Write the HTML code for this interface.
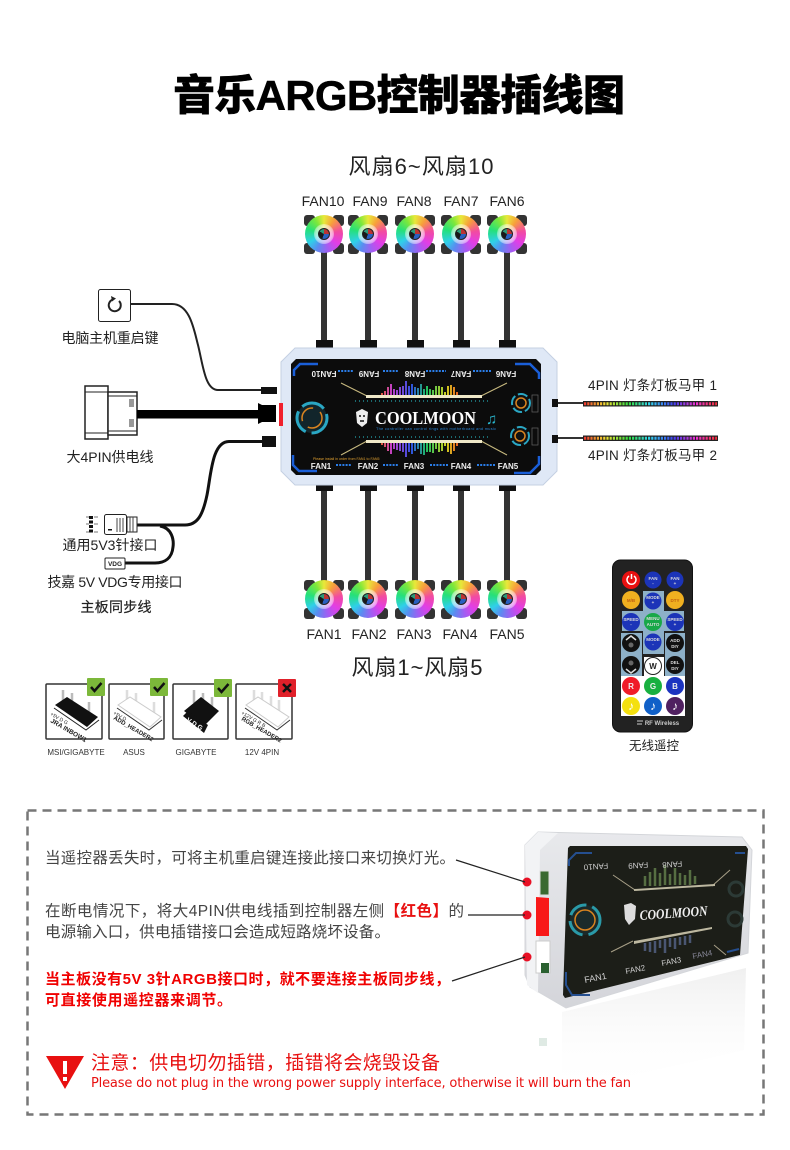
<!DOCTYPE html>
<html lang="zh"><head><meta charset="utf-8"><title>音乐ARGB控制器插线图</title>
<style>
html,body{margin:0;padding:0;background:#fff}
#p{position:relative;width:790px;height:1150px;overflow:hidden;background:#fff;font-family:"Liberation Sans","Noto Sans CJK SC",sans-serif}
svg{position:absolute;left:0;top:0}
text{font-family:"Liberation Sans","Noto Sans CJK SC",sans-serif}
.f{position:absolute;width:38px;height:38px;border-radius:50%;background:conic-gradient(#e8e83a 0deg,#f7a13a 35deg,#f24ba0 80deg,#e23ee6 125deg,#a45cf2 165deg,#5a8cf0 205deg,#2fd0e8 240deg,#25e07a 285deg,#7fe83a 330deg,#e8e83a 360deg)}
.f:before{content:"";position:absolute;left:9px;top:9px;width:20px;height:20px;border-radius:50%;background:radial-gradient(circle,rgba(255,255,255,.6) 55%,rgba(255,255,255,0) 100%)}
.f:after{content:"";position:absolute;left:13px;top:13px;width:12px;height:12px;border-radius:50%;box-sizing:border-box;border:1px solid #222;background:conic-gradient(#b33 0 90deg,#2a5fc0 90deg 200deg,#181818 200deg 300deg,#2a9a7a 300deg)}
.c{position:absolute;width:11px;height:11px;border-radius:3px;background:#333}
</style></head><body><div id="p">
<svg width="790" height="1150" viewBox="0 0 790 1150">
<defs>
<linearGradient id="rb" gradientUnits="userSpaceOnUse" x1="380" y1="0" x2="458" y2="0"><stop offset="0" stop-color="#e8602a"/><stop offset=".15" stop-color="#c040c8"/><stop offset=".4" stop-color="#3050e0"/><stop offset=".6" stop-color="#20c060"/><stop offset=".85" stop-color="#d0d020"/><stop offset="1" stop-color="#e86020"/></linearGradient>
<linearGradient id="led" gradientUnits="userSpaceOnUse" x1="583" y1="0" x2="718" y2="0"><stop offset="0" stop-color="#f03030"/><stop offset=".17" stop-color="#f0e030"/><stop offset=".34" stop-color="#30e040"/><stop offset=".5" stop-color="#30d0f0"/><stop offset=".67" stop-color="#4040f0"/><stop offset=".84" stop-color="#f030d0"/><stop offset="1" stop-color="#f03030"/></linearGradient>
<linearGradient id="ref" x1="0" y1="0" x2="0" y2="1"><stop offset="0" stop-color="#aaa" stop-opacity=".18"/><stop offset="1" stop-color="#fff" stop-opacity="0"/></linearGradient>
<linearGradient id="bd" x1="0" y1="0" x2="0" y2="1"><stop offset="0" stop-color="#e8e9ec"/><stop offset="1" stop-color="#d4d5da"/></linearGradient>
</defs>

<text x="399" y="110" text-anchor="middle" font-size="42" font-weight="900" textLength="452" stroke="#000" stroke-width=".5" fill="#000">音乐ARGB控制器插线图</text>
<text x="421" y="174" text-anchor="middle" font-size="22" fill="#222" textLength="145">风扇6~风扇10</text>
<text x="417" y="675" text-anchor="middle" font-size="22" fill="#222" textLength="131">风扇1~风扇5</text>

<g font-size="14" fill="#222" text-anchor="middle">
<text x="323" y="206">FAN10</text><text x="370" y="206">FAN9</text><text x="414" y="206">FAN8</text><text x="461" y="206">FAN7</text><text x="507" y="206">FAN6</text>
<text x="324" y="639">FAN1</text><text x="369" y="639">FAN2</text><text x="414" y="639">FAN3</text><text x="460" y="639">FAN4</text><text x="507" y="639">FAN5</text>
</g>

<!-- fan cables -->
<g fill="#333">
<rect x="321" y="250" width="6" height="90"/><rect x="365" y="250" width="6" height="90"/><rect x="412" y="250" width="6" height="90"/><rect x="458" y="250" width="6" height="90"/><rect x="504" y="250" width="6" height="90"/>
<rect x="321" y="488" width="6" height="96"/><rect x="365" y="488" width="6" height="96"/><rect x="412" y="488" width="6" height="96"/><rect x="458" y="488" width="6" height="96"/><rect x="504" y="488" width="6" height="96"/>
</g>
<g fill="#111">
<rect x="316" y="340" width="17" height="8"/><rect x="360" y="340" width="17" height="8"/><rect x="407" y="340" width="17" height="8"/><rect x="453" y="340" width="17" height="8"/><rect x="499" y="340" width="17" height="8"/>
<rect x="316" y="484" width="17" height="7"/><rect x="360" y="484" width="17" height="7"/><rect x="407" y="484" width="17" height="7"/><rect x="453" y="484" width="17" height="7"/><rect x="499" y="484" width="17" height="7"/>
</g>

<!-- controller -->
<polygon points="295,348 543,348 557,362 557,471 543,485 295,485 281,471 281,362" fill="#dfe8f6" stroke="#c4d0e2" stroke-width="1"/>
<polygon points="296,359 536,359 541,364 541,470 536,475 296,475 291,470 291,364" fill="#0c0c0c"/>
<g fill="none" stroke="#1a5fd8" stroke-width="2.500">
<path d="M294,376V370L300,364H318"/><path d="M515,364H530L539,373V379"/><path d="M293,455V465L299,471H317"/><path d="M514,473H530L539,464V456"/>
</g>
<g font-size="8" font-weight="bold" fill="#eee">
<text transform="rotate(180 324 371)" x="324" y="371" text-anchor="middle">FAN10</text>
<text transform="rotate(180 369 371)" x="369" y="371" text-anchor="middle">FAN9</text>
<text transform="rotate(180 415 371)" x="415" y="371" text-anchor="middle">FAN8</text>
<text transform="rotate(180 461 371)" x="461" y="371" text-anchor="middle">FAN7</text>
<text transform="rotate(180 506 371)" x="506" y="371" text-anchor="middle">FAN6</text>
<text x="321" y="469" text-anchor="middle">FAN1</text><text x="368" y="469" text-anchor="middle">FAN2</text><text x="414" y="469" text-anchor="middle">FAN3</text><text x="461" y="469" text-anchor="middle">FAN4</text><text x="508" y="469" text-anchor="middle">FAN5</text>
</g>
<g stroke="#2a7de8" stroke-width="2" stroke-dasharray="2 1.2" fill="none">
<path d="M338,371H354M383,371H399M426,371H446M473,371H491"/>
<path d="M336,465H352M383,465H399M430,465H448M477,465H495"/>
</g>
<text x="313" y="460" font-size="3.6" fill="#e0a030">Please install in order from FAN1 to FAN5</text>
<!-- gold wings -->
<g stroke="#c9bb80" fill="none" stroke-width="1">
<path d="M341,383L367,396"/><path d="M481,396L507,383"/><path d="M341,455L367,441"/><path d="M481,441L507,455"/>
</g>
<rect x="366" y="395" width="116" height="3" fill="#efe8c8"/><rect x="366" y="440" width="116" height="3" fill="#efe8c8"/>
<g fill="none" stroke="#1a6a70" stroke-width="2" stroke-dasharray="1 3">
<path d="M355,401H491"/><path d="M355,437H491"/>
</g>
<path d="M382 395v-2M385 395v-4M388 395v-8M391 395v-11M394 395v-6M397 395v-5M400 395v-8M403 395v-9M406 395v-14M409 395v-9M412 395v-11M415 395v-8M418 395v-7M421 395v-11M424 395v-6M427 395v-9M430 395v-6M433 395v-5M436 395v-9M439 395v-9M442 395v-8M445 395v-3M448 395v-9M451 395v-10M454 395v-8M457 395v-3" stroke="url(#rb)" stroke-width="2" fill="none"/>
<path d="M382 443v2M385 443v4M388 443v8M391 443v11M394 443v6M397 443v7M400 443v8M403 443v9M406 443v14M409 443v9M412 443v11M415 443v8M418 443v6M421 443v11M424 443v12M427 443v9M430 443v9M433 443v10M436 443v6M439 443v9M442 443v8M445 443v3M448 443v9M451 443v11M454 443v8M457 443v3" stroke="url(#rb)" stroke-width="2" fill="none"/>
<path d="M356,412L362,409L368,412L367,423L362,427L357,423Z" fill="#eee"/><path d="M359,416h2M363,416h2M360,421h4" stroke="#111" stroke-width="1.400"/>
<text x="375" y="424" font-size="17.500" font-weight="bold" fill="#fff" textLength="101" lengthAdjust="spacingAndGlyphs" style="font-family:'Liberation Serif',serif">COOLMOON</text>
<text x="376" y="430" font-size="3.800" fill="#2a86d8" textLength="120">The controller can control rings with motherboard and music</text>
<text x="486" y="424" font-size="15" fill="#2ab8d0">♫</text>
<circle cx="312" cy="418" r="15" fill="#12252b" stroke="#2aa7c4" stroke-width="3" stroke-dasharray="24 6"/><circle cx="312" cy="418" r="10" fill="none" stroke="#d98420" stroke-width="1.500" stroke-dasharray="20 8"/>
<circle cx="521" cy="403" r="9" fill="#111" stroke="#2aa7c4" stroke-width="2" stroke-dasharray="10 3"/><circle cx="521" cy="403" r="5" fill="none" stroke="#d98420" stroke-width="1.500"/>
<circle cx="520" cy="436" r="9" fill="#111" stroke="#2aa7c4" stroke-width="2" stroke-dasharray="10 3"/><circle cx="520" cy="436" r="5" fill="none" stroke="#d98420" stroke-width="1.500"/>
<rect x="532" y="395" width="6" height="17" fill="none" stroke="#666" stroke-width=".7"/><rect x="532" y="428" width="6" height="17" fill="none" stroke="#666" stroke-width=".7"/>
<rect x="279" y="403" width="4" height="23" fill="#f0202c"/>

<!-- right strips -->
<rect x="552" y="399" width="6" height="8" fill="#111"/><rect x="552" y="435" width="6" height="8" fill="#111"/>
<path d="M558,403H584M558,438H584" stroke="#333" stroke-width="2"/>
<rect x="583" y="401" width="135" height="5.500" fill="#222"/><rect x="583" y="435.500" width="135" height="5.500" fill="#222"/>
<path d="M584,403.700H717M584,438.200H717" stroke="url(#led)" stroke-width="3" stroke-dasharray="2.200 1"/>
<text x="588" y="390" font-size="13.500" fill="#222" textLength="129">4PIN 灯条灯板马甲 1</text>
<text x="588" y="460" font-size="13.500" fill="#222" textLength="129">4PIN 灯条灯板马甲 2</text>

<!-- left cables -->
<rect x="98.500" y="289.500" width="32" height="32" rx="2" fill="#fff" stroke="#222"/>
<path d="M119,301a6,6 0 1 1 -6,-1.500" fill="none" stroke="#222" stroke-width="2"/><path d="M111,296l5,2.500l-4,3z" fill="#222"/>
<path d="M131,304H172C190,304 194,330 198,345C203,365 205,390 218,390H262" fill="none" stroke="#222" stroke-width="2"/>
<rect x="261" y="387" width="16" height="7" fill="#111"/>
<text x="110" y="343" text-anchor="middle" font-size="14" fill="#222" textLength="97">电脑主机重启键</text>

<rect x="85" y="386" width="23" height="53" fill="#fff" stroke="#222" stroke-width="1.500"/><path d="M85,392H108M85,433H108" stroke="#222"/>
<rect x="108" y="392" width="29" height="43" fill="#fff" stroke="#222" stroke-width="1.500"/><path d="M108,396H137M108,431H137" stroke="#222"/>
<rect x="129" y="399" width="5" height="8" fill="#999"/><rect x="129" y="419" width="5" height="8" fill="#999"/>
<rect x="137" y="410" width="122" height="8.500" fill="#000"/>
<path d="M258,403L262,405H276V422H262L258,424Z" fill="#000"/>
<text x="110" y="462" text-anchor="middle" font-size="14" fill="#222" textLength="87">大4PIN供电线</text>

<rect x="262" y="436" width="14" height="11" fill="#111"/>
<path d="M263,441.500H229C212,441.500 211,475 207,495C203,514 198,525 185,525H136" fill="none" stroke="#111" stroke-width="3"/>
<path d="M160,526C172,528 174,540 173,547C172,558 165,563 155,563H125" fill="none" stroke="#111" stroke-width="3"/>
<rect x="104.500" y="514.500" width="22" height="20" rx="2" fill="#fff" stroke="#222"/>
<rect x="127" y="517" width="10" height="15" fill="#fff" stroke="#222"/><path d="M117,518v14M120,518v14M123,518v14M130,517v15M133,517v15" stroke="#444"/>
<rect x="108" y="529" width="4" height="1.500" fill="#111"/>
<path d="M91,516v18" stroke="#111" stroke-width="4" stroke-dasharray="3 1.500"/><path d="M86,517h3M86,524h3M86,532h3M94,517h4M94,524h4M94,532h4" stroke="#777"/>
<rect x="105" y="558" width="20" height="11" rx="1" fill="#fff" stroke="#222"/><text x="115" y="566" text-anchor="middle" font-size="6.500" font-weight="bold" fill="#222">VDG</text>
<text x="110" y="550" text-anchor="middle" font-size="14" fill="#222" textLength="95">通用5V3针接口</text>
<text x="115" y="587" text-anchor="middle" font-size="14" fill="#222" textLength="135">技嘉 5V VDG专用接口</text>
<text x="116" y="612" text-anchor="middle" font-size="14" fill="#222" stroke="#222" stroke-width=".2" textLength="71">主板同步线</text>

<!-- header cards -->
<g fill="#fff" stroke="#333" stroke-width="1.500">
<rect x="46" y="684" width="56" height="55" rx="1"/><rect x="109" y="684" width="55" height="55" rx="1"/><rect x="173" y="684" width="55" height="55" rx="1"/><rect x="236" y="684" width="56" height="55" rx="1"/>
</g>
<!-- card 1 -->
<path d="M63,690v11M72,693v11M89,702v12" stroke="#bbb" stroke-width="2.500"/>
<polygon points="55,705 67,697 98,717 87,727" fill="#111"/><path d="M54,708L86,730L99,720" fill="none" stroke="#222"/>
<text x="50" y="715" transform="rotate(30 50 715)" font-size="5" fill="#222">+5V  D       G</text>
<text x="50" y="722" transform="rotate(30 50 722)" font-size="6.500" font-weight="bold" fill="#222">JRA INBOW1</text>
<!-- card 2 -->
<path d="M127,690v11M136,693v11M154,702v12" stroke="#ddd" stroke-width="2.500"/>
<polygon points="118,705 130,697 161,717 150,727" fill="#fff" stroke="#ccc"/><path d="M117,708L149,730L162,720" fill="none" stroke="#333"/>
<text x="113" y="714" transform="rotate(30 113 714)" font-size="5" fill="#222">+5V  D</text>
<text x="113" y="719" transform="rotate(30 113 719)" font-size="6" font-weight="bold" fill="#222">ADD_HEADER2</text>
<!-- card 3 -->
<path d="M194,690v13M203,693v14M212,697v15" stroke="#bbb" stroke-width="2.500"/>
<polygon points="184,711 201,697 219,711 204,726" fill="#111"/>
<polygon points="183,716 188,711 208,725 204,733" fill="#111"/>
<text x="186" y="721" transform="rotate(32 186 721)" font-size="6.500" font-weight="bold" fill="#fff">V D G</text>
<!-- card 4 -->
<path d="M254,690v11M262,692v11M271,696v11M279,700v11" stroke="#ddd" stroke-width="2.500"/>
<polygon points="246,705 258,697 289,717 278,727" fill="#fff" stroke="#ccc"/><path d="M245,708L277,730L290,720" fill="none" stroke="#333"/>
<text x="241" y="714" transform="rotate(30 241 714)" font-size="5" fill="#222">+12V G  R  B</text>
<text x="241" y="720" transform="rotate(30 241 720)" font-size="6" font-weight="bold" fill="#222">RGB_HEADER2</text>
<g fill="#7cb83a"><rect x="87" y="678" width="18" height="18" rx="1"/><rect x="150" y="678" width="18" height="18" rx="1"/><rect x="214" y="679" width="18" height="18" rx="1"/></g>
<rect x="278" y="679" width="18" height="18" rx="1" fill="#e0202a"/>
<g fill="none" stroke="#111" stroke-width="2.500"><path d="M91,687l3.500,4l7,-8"/><path d="M154,687l3.500,4l7,-8"/><path d="M218,688l3.500,4l7,-8"/><path d="M283,684l8,8M291,684l-8,8"/></g>
<g font-size="8" fill="#333" text-anchor="middle"><text x="76" y="755">MSI/GIGABYTE</text><text x="134" y="755">ASUS</text><text x="196" y="755">GIGABYTE</text><text x="262" y="755">12V 4PIN</text></g>

<!-- remote -->
<rect x="612.500" y="560" width="80" height="172" rx="8" fill="#222" stroke="#111"/>
<path d="M643,591H664V611H684V631H664V654H643V631H622V611H643Z" fill="#8db0c8"/>
<rect x="621" y="633" width="21" height="43" fill="#8db0c8"/><rect x="665" y="633" width="20" height="43" fill="#8db0c8"/>
<rect x="644" y="657" width="20" height="19" fill="#fff"/><rect x="621" y="676" width="64" height="40" fill="#fff"/>
<circle cx="631" cy="580" r="9" fill="#e81010"/><circle cx="653" cy="580" r="8.500" fill="#1c34b8"/><circle cx="675" cy="580" r="8.500" fill="#1c34b8"/>
<circle cx="631" cy="600" r="9" fill="#f0b020"/><circle cx="653" cy="601" r="8.500" fill="#1c34b8"/><circle cx="675" cy="600" r="9" fill="#f0b020"/>
<circle cx="631" cy="622" r="9" fill="#1c34b8"/><circle cx="653" cy="622" r="9" fill="#18a848"/><circle cx="675" cy="622" r="9" fill="#1c34b8"/>
<circle cx="631" cy="643" r="9" fill="#111"/><circle cx="653" cy="642" r="8.500" fill="#1c34b8"/><circle cx="675" cy="643" r="9" fill="#111"/>
<circle cx="631" cy="665" r="9" fill="#111"/><circle cx="653" cy="666" r="8.500" fill="#fff" stroke="#222"/><circle cx="675" cy="665" r="9" fill="#111"/>
<circle cx="631" cy="686" r="9" fill="#f01c28"/><circle cx="653" cy="686" r="9" fill="#18b040"/><circle cx="675" cy="686" r="9" fill="#1c34c0"/>
<circle cx="631" cy="706" r="9" fill="#f4e010"/><circle cx="653" cy="706" r="9" fill="#1060c8"/><circle cx="675" cy="706" r="9" fill="#502060"/>
<path d="M634,576a4.500,4.500 0 1 1 -5,0M631.500,574v5" fill="none" stroke="#fff" stroke-width="1.500"/>
<path d="M626,640l5,-4l5,4M626,669l5,4l5,-4" fill="none" stroke="#ddd" stroke-width="1.500"/><circle cx="631" cy="645" r="2.500" fill="#666"/><circle cx="631" cy="663" r="2.500" fill="#666"/>
<g font-size="4.500" font-weight="bold" fill="#ddd" text-anchor="middle">
<text x="653" y="580">FAN</text><text x="653" y="585">-</text><text x="675" y="580">FAN</text><text x="675" y="585">+</text><text x="631" y="602" fill="#c06010">M/B</text><text x="653" y="599">MODE</text><text x="653" y="604">+</text><text x="675" y="602" fill="#c06010">DTY</text>
<text x="631" y="621">SPEED</text><text x="631" y="626">-</text><text x="653" y="620">MENU</text><text x="653" y="626">AUTO</text><text x="675" y="621">SPEED</text><text x="675" y="626">+</text><text x="653" y="641">MODE</text><text x="653" y="646">-</text>
<text x="675" y="642">ADD</text><text x="675" y="648">DIY</text><text x="675" y="664">DEL</text><text x="675" y="670">DIY</text>
</g>
<g font-size="8" font-weight="bold" text-anchor="middle" fill="#eee"><text x="653" y="669" fill="#222">W</text><text x="631" y="689">R</text><text x="653" y="689">G</text><text x="675" y="689">B</text></g>
<g font-size="12" text-anchor="middle" fill="#fff"><text x="631" y="710">♪</text><text x="653" y="710">♪</text><text x="675" y="710">♪</text></g>
<path d="M637,721h6M637,724h5" stroke="#ccc"/><text x="662" y="725" text-anchor="middle" font-size="6" fill="#ccc" font-weight="bold">RF Wireless</text>
<text x="654" y="750" text-anchor="middle" font-size="12.500" fill="#222" textLength="50">无线遥控</text>

<!-- dashed box -->
<rect x="27.500" y="810.500" width="736" height="304" fill="none" stroke="#777" stroke-width="2.500" stroke-dasharray="9 6"/>

<!-- device reflection -->
<polygon points="562,1012 746,968 744,1050 562,1092" fill="url(#ref)"/>
<rect x="539" y="1038" width="8" height="8" fill="#dfeae4"/>
<!-- device -->
<polygon points="525,845 538,832 742,837 752,850 748,953 566,1008 530,987 525,975" fill="url(#bd)" stroke="#d4d6da"/>
<polygon points="525,845 538,832 558,833 540,850 538,993 527,985" fill="#f2f3f5"/>
<polygon points="568,848 570,846 746,846 748,849 740,955 565,998 563,995" fill="#1c1e18"/>
<g fill="none" stroke="#254f90" stroke-width="2"><path d="M569,866V860L576,853H592"/><path d="M566,972V985L572,995H590"/><path d="M735,853H745"/><path d="M727,952L739,949"/></g>
<rect x="540" y="871" width="9" height="24" fill="#3a6a30" stroke="#ddd"/><polygon points="536,897 549,898 549,936 536,936" fill="#f81818"/><rect x="536" y="941" width="14" height="32" fill="#fff" stroke="#ccc"/><rect x="541" y="963" width="8" height="10" fill="#2a6030"/>
<circle cx="585" cy="920" r="15" fill="#1b2a2a" stroke="#2a9aa8" stroke-width="3" stroke-dasharray="20 6"/><circle cx="585" cy="920" r="10" fill="none" stroke="#d98420" stroke-width="1.500"/>
<circle cx="736" cy="889" r="7" fill="none" stroke="#2c3a36" stroke-width="3"/><circle cx="735" cy="919" r="7" fill="none" stroke="#2c3a36" stroke-width="3"/>
<g stroke="#a8a088" fill="none"><path d="M613,875L635,890"/><path d="M712,886L730,870"/><path d="M611,952L633,941"/><path d="M714,945L726,955" /></g>
<polygon points="634,889 715,884 715,886 634,891" fill="#bdb8a0"/><polygon points="634,941 712,927 712,929 634,944" fill="#bdb8a0"/>
<path d="M645,886v-10M650,886v-14M655,886v-18M660,886v-13M665,885v-20M670,885v-11M675,885v-17M680,885v-12M685,885v-10M690,885v-15M695,884v-8" stroke="#6a8a50" stroke-width="2.500" stroke-opacity=".75"/>
<path d="M645,943v8M650,942v10M655,941v12M660,940v8M665,939v14M670,938v9M675,938v11M680,937v8M685,936v9M690,935v8" stroke="#5a6a90" stroke-width="2.500" stroke-opacity=".75"/>
<text transform="rotate(-4 640 920)" x="640" y="920" font-size="14" font-weight="bold" font-style="italic" fill="#eee" textLength="68" lengthAdjust="spacingAndGlyphs" style="font-family:'Liberation Serif',serif">COOLMOON</text>
<path d="M624,905L631,903L636,906L635,919L629,925L625,919Z" fill="#ddd"/>
<g font-size="8" fill="#cfcfcf"><text transform="rotate(176 608 863)" x="608" y="863">FAN10</text><text transform="rotate(176 648 862)" x="648" y="862">FAN9</text><text transform="rotate(176 682 861)" x="682" y="861">FAN8</text><text transform="rotate(-11 585 983)" x="585" y="983" font-size="9">FAN1</text><text transform="rotate(-11 626 974)" x="626" y="974">FAN2</text><text transform="rotate(-11 662 966)" x="662" y="966">FAN3</text><text transform="rotate(-11 693 959)" x="693" y="959" fill="#889">FAN4</text></g>
<circle cx="527" cy="882" r="4.500" fill="#e81024"/><circle cx="527" cy="915" r="4.500" fill="#e81024"/><circle cx="527" cy="957" r="4.500" fill="#e81024"/>
<path d="M456,860L525,882M468,915H525M452,981L525,957" stroke="#222" stroke-width="1.200" fill="none"/>

<!-- bottom text -->
<g font-size="15.500" fill="#444">
<text x="45" y="863" textLength="410">当遥控器丢失时，可将主机重启键连接此接口来切换灯光。</text>
<text x="45" y="916" textLength="419">在断电情况下，将大4PIN供电线插到控制器左侧<tspan fill="#e81010" font-weight="bold">【红色】</tspan>的</text>
<text x="45" y="937" textLength="345">电源输入口，供电插错接口会造成短路烧坏设备。</text>
</g>
<g font-size="15" font-weight="bold" fill="#f00000">
<text x="45" y="984" textLength="405">当主板没有5V 3针ARGB接口时，就不要连接主板同步线，</text>
<text x="45" y="1005" textLength="187">可直接使用遥控器来调节。</text>
</g>
<polygon points="46,1056 84,1056 65,1089" fill="#e81010"/>
<rect x="63" y="1061" width="4" height="13" fill="#fff"/><rect x="63" y="1077" width="4" height="4" fill="#fff"/>
<text x="91" y="1069" font-size="19" fill="#e81010" textLength="349">注意：供电切勿插错，插错将会烧毁设备</text>
<text x="91" y="1087" font-size="13" fill="#e81010" textLength="540" style="font-family:'DejaVu Sans',sans-serif">Please do not plug in the wrong power supply interface, otherwise it will burn the fan</text>
</svg>

<!-- fan corners -->
<div class="c" style="left:304px;top:215px"></div><div class="c" style="left:333px;top:215px"></div><div class="c" style="left:304px;top:243px"></div><div class="c" style="left:333px;top:243px"></div>
<div class="c" style="left:348px;top:215px"></div><div class="c" style="left:377px;top:215px"></div><div class="c" style="left:348px;top:243px"></div><div class="c" style="left:377px;top:243px"></div>
<div class="c" style="left:395px;top:215px"></div><div class="c" style="left:424px;top:215px"></div><div class="c" style="left:395px;top:243px"></div><div class="c" style="left:424px;top:243px"></div>
<div class="c" style="left:441px;top:215px"></div><div class="c" style="left:470px;top:215px"></div><div class="c" style="left:441px;top:243px"></div><div class="c" style="left:470px;top:243px"></div>
<div class="c" style="left:487px;top:215px"></div><div class="c" style="left:516px;top:215px"></div><div class="c" style="left:487px;top:243px"></div><div class="c" style="left:516px;top:243px"></div>
<div class="c" style="left:304px;top:580px"></div><div class="c" style="left:333px;top:580px"></div><div class="c" style="left:304px;top:608px"></div><div class="c" style="left:333px;top:608px"></div>
<div class="c" style="left:348px;top:580px"></div><div class="c" style="left:377px;top:580px"></div><div class="c" style="left:348px;top:608px"></div><div class="c" style="left:377px;top:608px"></div>
<div class="c" style="left:395px;top:580px"></div><div class="c" style="left:424px;top:580px"></div><div class="c" style="left:395px;top:608px"></div><div class="c" style="left:424px;top:608px"></div>
<div class="c" style="left:441px;top:580px"></div><div class="c" style="left:470px;top:580px"></div><div class="c" style="left:441px;top:608px"></div><div class="c" style="left:470px;top:608px"></div>
<div class="c" style="left:487px;top:580px"></div><div class="c" style="left:516px;top:580px"></div><div class="c" style="left:487px;top:608px"></div><div class="c" style="left:516px;top:608px"></div>
<!-- fans -->
<div class="f" style="left:305px;top:215px"></div><div class="f" style="left:349px;top:215px"></div><div class="f" style="left:396px;top:215px"></div><div class="f" style="left:442px;top:215px"></div><div class="f" style="left:488px;top:215px"></div>
<div class="f" style="left:305px;top:580px"></div><div class="f" style="left:349px;top:580px"></div><div class="f" style="left:396px;top:580px"></div><div class="f" style="left:442px;top:580px"></div><div class="f" style="left:488px;top:580px"></div>
</div></body></html>
